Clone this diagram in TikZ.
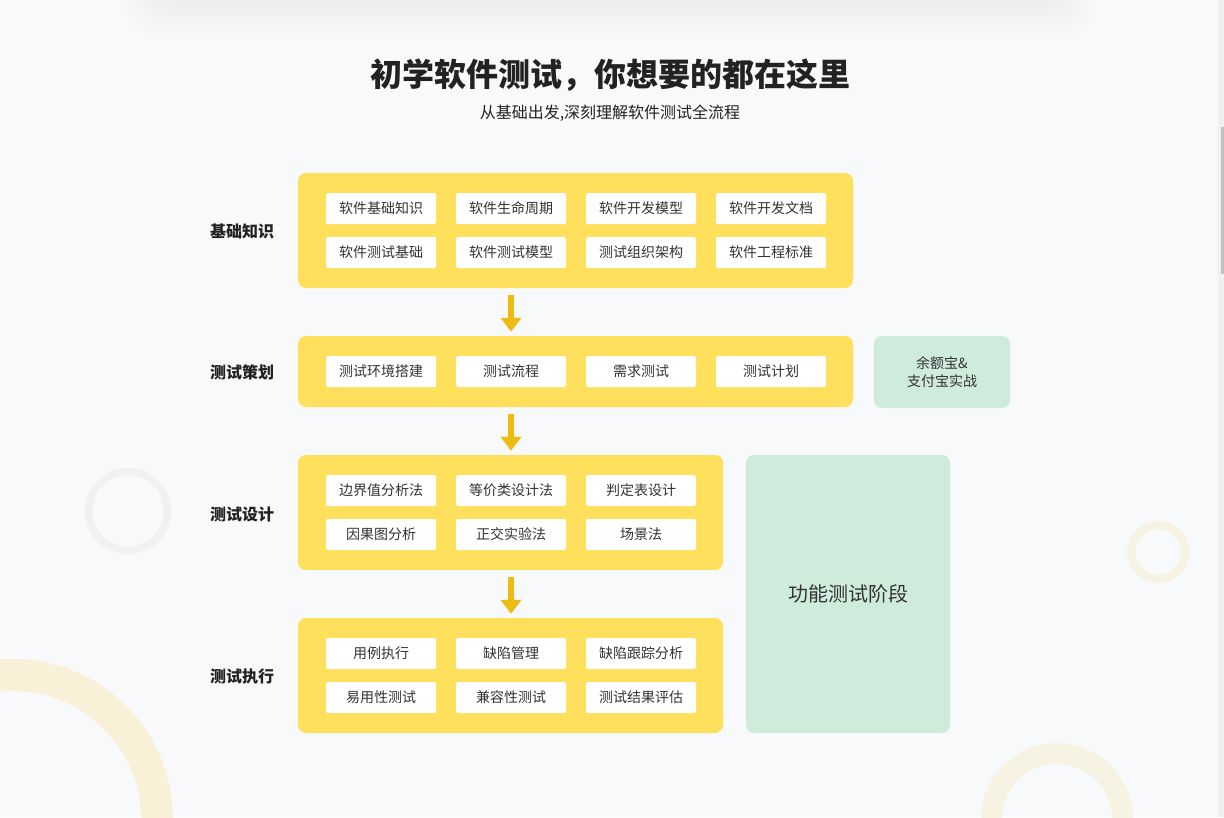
\documentclass[tikz,border=0pt]{standalone}
\usepackage{fontspec}
\setmainfont{Noto Sans CJK SC}
\usepackage{tikz}
\usetikzlibrary{arrows.meta}
\usepackage{xcolor}
\definecolor{pagebg}{HTML}{F8F9FB}
\definecolor{panelyellow}{HTML}{FFE05C}
\definecolor{arrowgold}{HTML}{F0BB10}
\definecolor{stagegreen}{HTML}{CEEBDC}
\definecolor{itemtext}{HTML}{333333}
\definecolor{labeltext}{HTML}{222222}
\definecolor{ringgrey}{HTML}{F0F1F3}
\definecolor{ringyellow}{HTML}{F8F1D8}
\definecolor{ringpale}{HTML}{F7F3E3}
\definecolor{scrolltrack}{HTML}{F1F1F1}
\definecolor{scrollthumb}{HTML}{C1C1C1}
\tikzset{
    panel/.style={
        fill=panelyellow,
        rounded corners=8pt,
        inner sep=0pt
    },
    item/.style={
        fill=white,
        rounded corners=2pt,
        minimum width=110pt,
        minimum height=31pt,
        inner sep=0pt,
        text height=12.5pt,
        text depth=2pt,
        text=itemtext,
        font=\fontsize{14}{17}\selectfont
    },
    stage/.style={
        fill=stagegreen,
        rounded corners=8pt,
        inner sep=0pt,
        align=center,
        text=itemtext
    },
    phase/.style={
        text=labeltext,
        text height=14pt,
        text depth=2pt,
        font=\fontsize{16}{19}\selectfont\bfseries
    },
    flow/.style={
        draw=arrowgold,
        line width=6.5pt,
        -{Triangle[width=20pt, length=14pt]},
        shorten <=7pt,
        shorten >=4pt
    }
}

\begin{document}
\begin{tikzpicture}[x=1pt, y=-1pt]
    \fill[pagebg] (0,0) rectangle (1224,817);
    \useasboundingbox (0,0) rectangle (1224,817);
    \clip (0,0) rectangle (1224,817);

    % background decoration
    \foreach \s in {0,3,...,36}
        \fill[black, opacity=0.0025, rounded corners=30pt] (160-\s,-80) rectangle (1060+\s,\s);
    \draw[ringgrey, line width=7.5pt] (128,511) circle[radius=39.5];
    \draw[ringyellow, line width=32pt] (13,819) circle[radius=144];
    \draw[ringpale, line width=8pt] (1158,552) circle[radius=27];
    \draw[ringpale, line width=21pt] (1057,819) circle[radius=65.5];
    \fill[scrolltrack] (1218,0) rectangle (1224,817);
    \fill[scrollthumb] (1221,127) rectangle (1224,274);

    % title
    \node[text=labeltext, font=\fontsize{32}{38}\selectfont\bfseries] (title) at (610,75) {初学软件测试，你想要的都在这里};
    \node[text=labeltext, font=\fontsize{16}{19}\selectfont] (subtitle) at (610,113) {从基础出发,深刻理解软件测试全流程};

    % phase labels
    \node[phase] (l1) at (242,231) {基础知识};
    \node[phase] (l2) at (242,372) {测试策划};
    \node[phase] (l3) at (242,514) {测试设计};
    \node[phase] (l4) at (242,676) {测试执行};

    % panels
    \node[panel, minimum width=555pt, minimum height=115pt] (p1) at (575.5,230.5) {};
    \node[panel, minimum width=555pt, minimum height=71pt] (p2) at (575.5,371.5) {};
    \node[panel, minimum width=425pt, minimum height=115pt] (p3) at (510.5,512.5) {};
    \node[panel, minimum width=425pt, minimum height=115pt] (p4) at (510.5,675.5) {};

    % items
    \node[item] (a1) at (381,208.5) {软件基础知识};
    \node[item] (a2) at (511,208.5) {软件生命周期};
    \node[item] (a3) at (641,208.5) {软件开发模型};
    \node[item] (a4) at (771,208.5) {软件开发文档};
    \node[item] (a5) at (381,252.5) {软件测试基础};
    \node[item] (a6) at (511,252.5) {软件测试模型};
    \node[item] (a7) at (641,252.5) {测试组织架构};
    \node[item] (a8) at (771,252.5) {软件工程标准};

    \node[item] (b1) at (381,371.5) {测试环境搭建};
    \node[item] (b2) at (511,371.5) {测试流程};
    \node[item] (b3) at (641,371.5) {需求测试};
    \node[item] (b4) at (771,371.5) {测试计划};

    \node[item] (c1) at (381,490.5) {边界值分析法};
    \node[item] (c2) at (511,490.5) {等价类设计法};
    \node[item] (c3) at (641,490.5) {判定表设计};
    \node[item] (c4) at (381,534.5) {因果图分析};
    \node[item] (c5) at (511,534.5) {正交实验法};
    \node[item] (c6) at (641,534.5) {场景法};

    \node[item] (d1) at (381,653.5) {用例执行};
    \node[item] (d2) at (511,653.5) {缺陷管理};
    \node[item] (d3) at (641,653.5) {缺陷跟踪分析};
    \node[item] (d4) at (381,697.5) {易用性测试};
    \node[item] (d5) at (511,697.5) {兼容性测试};
    \node[item] (d6) at (641,697.5) {测试结果评估};

    % stages
    \node[stage, minimum width=136pt, minimum height=72pt, font=\fontsize{14}{18}\selectfont] (g1) at (942,372) {余额宝\&\\支付宝实战};
    \node[stage, minimum width=204pt, minimum height=278pt, font=\fontsize{20}{24}\selectfont] (g2) at (848,594) {功能测试阶段};

    % flow
    \draw[flow] (p1.south -| a2) -- (p2.north -| a2);
    \draw[flow] (p2.south -| a2) -- (p3.north -| a2);
    \draw[flow] (p3.south -| a2) -- (p4.north -| a2);
\end{tikzpicture}
\end{document}
